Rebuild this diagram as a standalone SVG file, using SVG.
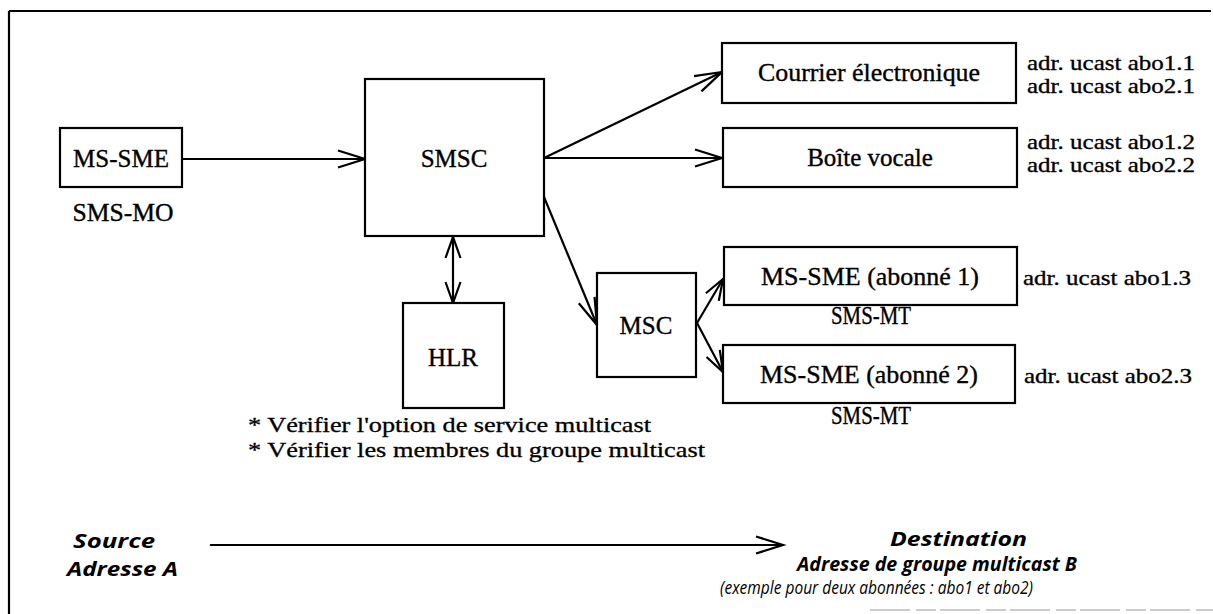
<svg xmlns="http://www.w3.org/2000/svg" width="1213" height="614" viewBox="0 0 1213 614">
<defs>
<style>
.box{fill:#fff;stroke:#000;stroke-width:2.2}
.lbl{font-family:"Liberation Serif","Times New Roman",serif;font-size:25px;fill:#000;stroke:#000;stroke-width:0.35;text-anchor:middle}
.side{font-family:"Liberation Serif","Times New Roman",serif;font-size:22px;fill:#000;stroke:#000;stroke-width:0.35}
.note{font-family:"Liberation Serif","Times New Roman",serif;font-size:21px;fill:#000;stroke:#000;stroke-width:0.3}
.bi{font-family:"Open Sans","Liberation Sans",sans-serif;font-style:italic;font-weight:700;font-size:20px;fill:#000}
.it{font-family:"Open Sans","Liberation Sans",sans-serif;font-style:italic;font-size:18px;fill:#000}
.con{stroke:#000;stroke-width:2.2;fill:none}
</style>
<marker id="ah" markerUnits="userSpaceOnUse" markerWidth="32" markerHeight="22" refX="28" refY="10" orient="auto-start-reverse" viewBox="0 0 32 22">
<path d="M1,1.5 L28,10 L1,18.5" fill="none" stroke="#000" stroke-width="2.2"/>
</marker>
<marker id="ahs" markerUnits="userSpaceOnUse" markerWidth="26" markerHeight="20" refX="22" refY="9" orient="auto-start-reverse" viewBox="0 0 26 20">
<path d="M1,1.5 L22,9 L1,16.5" fill="none" stroke="#000" stroke-width="2.2"/>
</marker>
</defs>
<g id="frame">
<line x1="9" y1="11" x2="1211" y2="11" stroke="#000" stroke-width="2.2"/>
<line x1="9" y1="11" x2="9" y2="614" stroke="#000" stroke-width="2.2"/>
<line x1="870" y1="610" x2="1213" y2="610" stroke="#bbb" stroke-width="1.5" stroke-dasharray="40 6 20 4"/>
</g>
<g id="connectors">
<line class="con" x1="182" y1="159" x2="365" y2="159" marker-end="url(#ah)"/>
<line class="con" x1="544" y1="158" x2="722" y2="72" marker-end="url(#ah)"/>
<line class="con" x1="544" y1="158" x2="722" y2="158" marker-end="url(#ah)"/>
<line class="con" x1="544" y1="197" x2="597" y2="325" marker-end="url(#ah)"/>
<line class="con" x1="453" y1="237" x2="453" y2="303" marker-start="url(#ahs)" marker-end="url(#ahs)"/>
<line class="con" x1="697" y1="323" x2="723" y2="279" marker-end="url(#ahs)"/>
<line class="con" x1="697" y1="323" x2="723" y2="372" marker-end="url(#ahs)"/>
<line class="con" x1="210" y1="545" x2="783" y2="545" marker-end="url(#ah)"/>
</g>
<g id="ms-sme">
<rect class="box" x="60" y="128" width="122" height="59"/>
<text class="lbl" x="121" y="167">MS-SME</text>
<text class="lbl" x="123" y="221" textLength="101" lengthAdjust="spacingAndGlyphs">SMS-MO</text>
</g>
<g id="smsc">
<rect class="box" x="365" y="79" width="179" height="157"/>
<text class="lbl" x="454" y="167">SMSC</text>
</g>
<g id="hlr">
<rect class="box" x="403" y="303" width="101" height="105"/>
<text class="lbl" x="453" y="366">HLR</text>
<text class="note" x="248" y="432" textLength="403" lengthAdjust="spacingAndGlyphs">* Vérifier l'option de service multicast</text>
<text class="note" x="248" y="457" textLength="457" lengthAdjust="spacingAndGlyphs">* Vérifier les membres du groupe multicast</text>
</g>
<g id="msc">
<rect class="box" x="597" y="273" width="99" height="104"/>
<text class="lbl" x="646" y="334">MSC</text>
</g>
<g id="courrier">
<rect class="box" x="722" y="43" width="294" height="60"/>
<text class="lbl" x="869" y="81" textLength="222" lengthAdjust="spacingAndGlyphs">Courrier électronique</text>
<text class="side" x="1027" y="70" textLength="168" lengthAdjust="spacingAndGlyphs">adr. ucast abo1.1</text>
<text class="side" x="1027" y="93" textLength="168" lengthAdjust="spacingAndGlyphs">adr. ucast abo2.1</text>
</g>
<g id="boite">
<rect class="box" x="723" y="128" width="294" height="59"/>
<text class="lbl" x="870" y="166">Boîte vocale</text>
<text class="side" x="1027" y="149" textLength="168" lengthAdjust="spacingAndGlyphs">adr. ucast abo1.2</text>
<text class="side" x="1027" y="172" textLength="168" lengthAdjust="spacingAndGlyphs">adr. ucast abo2.2</text>
</g>
<g id="abonne1">
<rect class="box" x="724" y="247" width="293" height="58"/>
<text class="lbl" x="870" y="285" textLength="218" lengthAdjust="spacingAndGlyphs">MS-SME (abonné 1)</text>
<text class="lbl" x="871" y="324" textLength="80" lengthAdjust="spacingAndGlyphs">SMS-MT</text>
<text class="side" x="1023" y="285" textLength="168" lengthAdjust="spacingAndGlyphs">adr. ucast abo1.3</text>
</g>
<g id="abonne2">
<rect class="box" x="723" y="345" width="292" height="58"/>
<text class="lbl" x="869" y="383" textLength="218" lengthAdjust="spacingAndGlyphs">MS-SME (abonné 2)</text>
<text class="lbl" x="871" y="424" textLength="80" lengthAdjust="spacingAndGlyphs">SMS-MT</text>
<text class="side" x="1024" y="383" textLength="168" lengthAdjust="spacingAndGlyphs">adr. ucast abo2.3</text>
</g>
<g id="legend">
<text class="bi" x="73" y="548" textLength="82" lengthAdjust="spacingAndGlyphs">Source</text>
<text class="bi" x="67" y="576" textLength="111" lengthAdjust="spacingAndGlyphs">Adresse A</text>
<text class="bi" x="890" y="546" textLength="137" lengthAdjust="spacingAndGlyphs">Destination</text>
<text class="bi" x="797" y="571" textLength="280" lengthAdjust="spacingAndGlyphs">Adresse de groupe multicast B</text>
<text class="it" x="720" y="594" textLength="313" lengthAdjust="spacingAndGlyphs">(exemple pour deux abonnées : abo1 et abo2)</text>
</g>
</svg>
